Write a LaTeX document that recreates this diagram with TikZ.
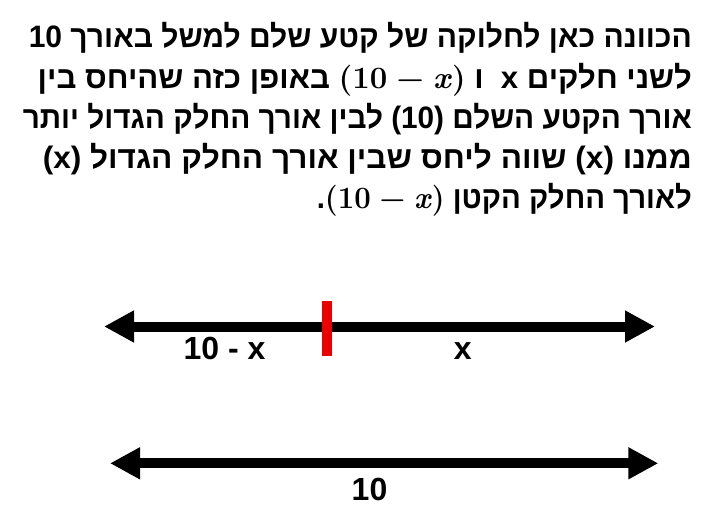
\documentclass[tikz,border=0pt]{standalone}
\usepackage[no-math]{fontspec}
\usepackage{graphicx}
\usetikzlibrary{arrows.meta}
\TeXXeTstate=1
\newfontfamily\hebfont[Script=Hebrew]{Liberation Sans}
\newfontfamily\lmfont{Latin Modern Roman}
\newcommand\tenminusx{\hbox{\lmfont\bfseries (10\hspace{0.3em}−\hspace{0.3em}\textit{x})}}
\newcommand\textrow[2]{\resizebox{#1}{\height}{#2}}
\definecolor{cutred}{RGB}{234,0,0}
\tikzset{
  txt/.style={anchor=base east, inner sep=0pt, font=\hebfont\bfseries\fontsize{31}{31}\selectfont},
  seglabel/.style={anchor=base, inner sep=0pt, font=\hebfont\bfseries\fontsize{32}{32}\selectfont},
  dbl/.style={line width=10pt, {Triangle[length=30pt,width=30pt]}-{Triangle[length=30pt,width=30pt]}},
}
\begin{document}
\begin{tikzpicture}[x=1pt, y=1pt]
          \useasboundingbox (0,0) rectangle (706,-521);

          \node[txt] (l1) at (692,-48) {\textrow{663pt}{10 \beginR הכוונה כאן לחלוקה של קטע שלם למשל באורך\endR}};
          \node[txt] (l2) at (692,-88.5) {\textrow{654pt}{\beginR באופן כזה שהיחס בין\endR{} \tenminusx{} \beginR ו\endR{} \ x \beginR לשני חלקים\endR}};
          \node[txt] (l3) at (692,-129) {\textrow{669pt}{\beginR לבין אורך החלק הגדול יותר\endR{} (10) \beginR אורך הקטע השלם\endR}};
          \node[txt] (l4) at (692,-169) {\textrow{649pt}{(x) \beginR שווה ליחס שבין אורך החלק הגדול\endR{} (x) \beginR ממנו\endR}};
          \node[txt] (l5) at (692,-209) {\textrow{375pt}{.\tenminusx{} \beginR לאורך החלק הקטן\endR}};

          \coordinate (topL) at (104,-326.5);
          \coordinate (topR) at (655,-326.5);
          \coordinate (botL) at (110,-463.3);
          \coordinate (botR) at (658.3,-463.3);
          \coordinate (cutT) at (327,-301);
          \coordinate (cutB) at (327,-356);

          \draw[dbl] (topL) -- (topR);
          \draw[dbl] (botL) -- (botR);
          \draw[cutred, line width=10pt] (cutT) -- (cutB);

          \node[seglabel] (small) at (224.5,-359) {10 - x};
          \node[seglabel] (large) at (462.7,-359) {x};
          \node[seglabel] (whole) at (369.5,-500.7) {10};
        \end{tikzpicture}
\end{document}
